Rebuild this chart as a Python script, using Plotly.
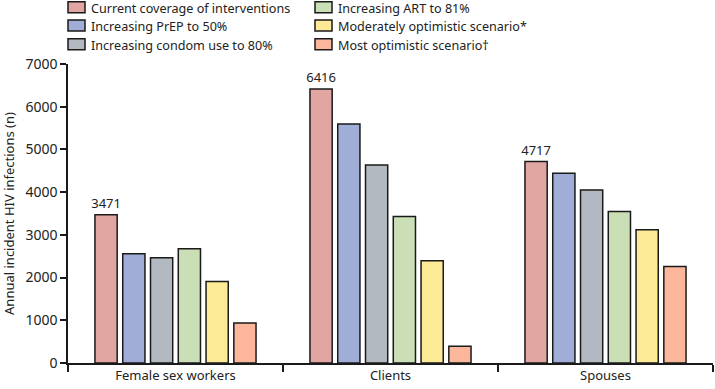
import plotly.graph_objects as go

categories = ["Female sex workers", "Clients", "Spouses"]
scenarios = [
    "Current coverage of interventions",
    "Increasing PrEP to 50%",
    "Increasing condom use to 80%",
    "Increasing ART to 81%",
    "Moderately optimistic scenario*",
    "Most optimistic scenario\u2020",
]
current = [3471, 6416, 4717]
prep = [2556, 5593, 4441]
condom = [2463, 4636, 4051]
art = [2673, 3428, 3545]
moderate = [1909, 2393, 3117]
most = [937, 390, 2260]
series = [current, prep, condom, art, moderate, most]
colors = ["#E2A6A2", "#A0AED7", "#B3B9C0", "#CADFB6", "#FDEA96", "#FBB69C"]
y_ticks = [0, 1000, 2000, 3000, 4000, 5000, 6000, 7000]

FONT = "Noto Sans"
LINE = "#1a1a1a"
fig = go.Figure()
for i, (name, vals) in enumerate(zip(scenarios, series)):
    fig.add_trace(go.Bar(
        x=categories, y=vals, name=name,
        marker=dict(color=colors[i], line=dict(color=LINE, width=1.5)),
        text=[str(v) for v in vals] if i == 0 else None,
        textposition="outside" if i == 0 else None,
        constraintext="none",
        textfont=dict(family=FONT, size=13, color="#222"),
        cliponaxis=False,
        showlegend=False,
    ))

# manual legend (two columns, three rows) above the plot area
shapes = []
annotations = []
col_x = [0, 247]             # pixel offset of swatch from plot left edge
row_y = [56.8, 38.5, 19.7]   # pixel offset of row centre above plot top
for i, name in enumerate(scenarios):
    c, r = divmod(i, 3)
    shapes.append(dict(
        type="rect", xref="paper", yref="paper",
        xsizemode="pixel", ysizemode="pixel", xanchor=0, yanchor=1,
        x0=col_x[c], x1=col_x[c] + 17, y0=row_y[r] - 5.5, y1=row_y[r] + 5.5,
        fillcolor=colors[i], line=dict(color=LINE, width=1.5),
    ))
    annotations.append(dict(
        text=name, xref="paper", yref="paper", x=0, y=1,
        xanchor="left", yanchor="middle", xshift=col_x[c] + 21,
        yshift=row_y[r] - 1.0,
        showarrow=False, font=dict(family=FONT, size=12.6, color="#222"),
    ))

fig.update_layout(
    width=715, height=389,
    margin=dict(l=68, r=2, t=64, b=26),
    plot_bgcolor="white", paper_bgcolor="white",
    barmode="group", bargap=0.225, bargroupgap=0.2,
    font=dict(family=FONT, size=13, color="#222"),
    showlegend=False,
    shapes=shapes, annotations=annotations,
    xaxis=dict(
        automargin=False,
        showline=True, linecolor=LINE, linewidth=1.5,
        ticks="outside", tickson="boundaries", ticklen=7, tickwidth=1.5,
        tickcolor=LINE, tickfont=dict(family=FONT, size=13),
        showgrid=False,
    ),
    yaxis=dict(
        automargin=False,
        range=[0, 7000], tickvals=y_ticks,
        showline=True, linecolor=LINE, linewidth=1.5,
        ticks="outside", ticklen=6, tickwidth=1.5, tickcolor=LINE,
        tickfont=dict(family=FONT, size=14), showgrid=False, zeroline=False,
        title=dict(text="Annual incident HIV infections (n)", standoff=10,
                   font=dict(family=FONT, size=13)),
    ),
)
fig.write_html("out.html", config={"displayModeBar": False},
               post_script="document.body.style.margin='0';")
